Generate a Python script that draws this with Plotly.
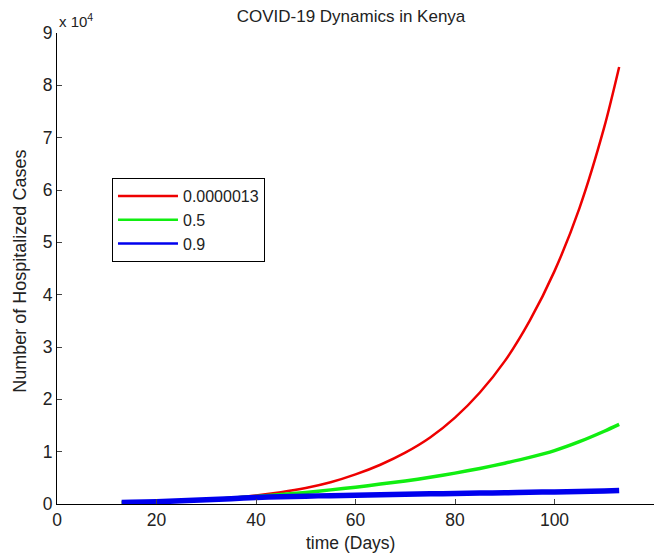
import plotly.graph_objects as go

days = [13, 15, 20, 25, 30, 35, 40, 45, 50, 55, 60, 65, 70, 75, 80, 85, 90, 95, 100, 105, 110, 113]

red_vals = [300, 350, 450, 620, 850, 1200, 1650, 2250, 3050, 4150, 5650, 7500, 9800,
            12700, 16500, 21300, 27300, 35000, 44500, 56500, 72000, 83500]
green_vals = [300, 350, 450, 600, 850, 1100, 1450, 1800, 2200, 2700, 3200, 3800, 4400,
              5100, 5900, 6800, 7800, 8900, 10200, 11900, 13900, 15200]
blue_vals = [300, 350, 450, 600, 800, 1000, 1250, 1400, 1500, 1600, 1650, 1750, 1850,
             1950, 2000, 2100, 2150, 2250, 2300, 2400, 2500, 2600]

series_names = ["0.0000013", "0.5", "0.9"]
series_colors = ["#ee0000", "#11ee11", "#0000ee"]
series_widths = [2.5, 3.5, 5.5]

x_ticks = [0, 20, 40, 60, 80, 100, 120]
y_tick_labels = ["0", "1", "2", "3", "4", "5", "6", "7", "8", "9"]
y_tick_vals = [i * 10000 for i in range(10)]

FONT = "Liberation Sans, Arial, Helvetica, sans-serif"
TXT = "#222222"

fig = go.Figure()
for name, vals, col, w in zip(series_names, [red_vals, green_vals, blue_vals], series_colors, series_widths):
    fig.add_trace(go.Scatter(x=days, y=vals, mode="lines", name=name, legendgroup=name,
                             showlegend=False,
                             line=dict(color=col, width=w, shape="spline", smoothing=0.8)))
for name, col in zip(series_names, series_colors):
    fig.add_trace(go.Scatter(x=[None], y=[None], mode="lines", name=name, legendgroup=name,
                             showlegend=True, line=dict(color=col, width=2.5)))

fig.update_layout(
    width=657, height=550,
    margin=dict(l=49, r=11, t=25, b=54),
    paper_bgcolor="white", plot_bgcolor="white",
    font=dict(family=FONT, size=17, color=TXT),
    title=dict(text="COVID-19 Dynamics in Kenya", x=343 / 657, xanchor="center", xref="container",
               y=1 - 8 / 550, yanchor="middle", yref="container",
               font=dict(size=17, family=FONT, color=TXT)),
    showlegend=True,
    legend=dict(x=0.0921, y=(496 - 212) / 471, xanchor="left", yanchor="middle",
                bordercolor="black", borderwidth=1, bgcolor="white",
                font=dict(size=16, family=FONT, color=TXT),
                tracegroupgap=0, itemwidth=60),
    xaxis=dict(range=[0, 120], tickvals=x_ticks, ticks="inside", ticklen=5,
               showline=True, linecolor="black", linewidth=1, showgrid=False,
               zeroline=False, tickfont=dict(size=17.5, family=FONT, color=TXT)),
    yaxis=dict(range=[0, 90000], tickvals=y_tick_vals, ticktext=y_tick_labels,
               ticks="inside", ticklen=5, showline=True, linecolor="black", linewidth=1,
               showgrid=False, zeroline=False, tickfont=dict(size=17.5, family=FONT, color=TXT)),
    annotations=[
        dict(text="x 10<sup>4</sup>", xref="paper", yref="paper", x=0.0, y=1.0,
             xanchor="left", yanchor="bottom", showarrow=False, yshift=1,
             font=dict(size=15, family=FONT, color=TXT)),
        dict(text="time (Days)", xref="paper", yref="paper", x=(342 - 49) / 597,
             y=-(535 - 496) / 471, xanchor="center", yanchor="middle", showarrow=False,
             font=dict(size=17.5, family=FONT, color=TXT)),
        dict(text="Number of Hospitalized Cases", xref="paper", yref="paper",
             x=-(49 - 11.7) / 597, y=(496 - 263) / 471, xanchor="center", yanchor="middle",
             textangle=-90, showarrow=False,
             font=dict(size=18, family=FONT, color=TXT)),
    ],
)

fig.write_html("out.html")
